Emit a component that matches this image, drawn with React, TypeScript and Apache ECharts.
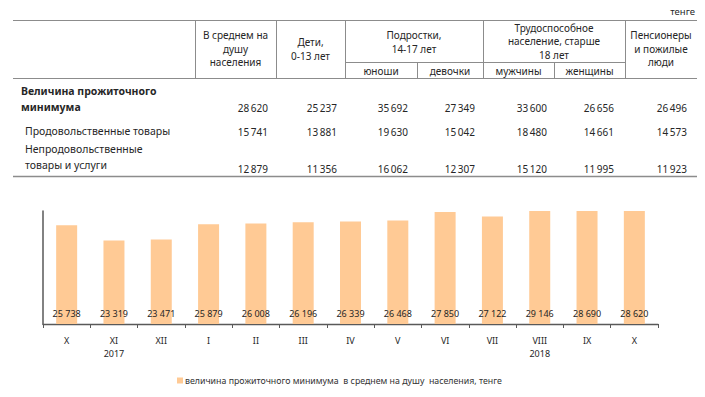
import React, { useEffect, useRef } from "react";
import * as echarts from "echarts";

const months = ["X", "XI", "XII", "I", "II", "III", "IV", "V", "VI", "VII", "VIII", "IX", "X"];
const years = ["", "2017", "", "", "", "", "", "", "", "", "2018", "", ""];
const monthlyValues = [25738, 23319, 23471, 25879, 26008, 26196, 26339, 26468, 27850, 27122, 29146, 28690, 28620];
const legendName = "величина прожиточного минимума  в среднем на душу  населения, тенге";

const rowLabels = [["Величина прожиточного", "минимума"], ["Продовольственные товары"], ["Непродовольственные", "товары и услуги"]];
const totalRow = [28620, 25237, 35692, 27349, 33600, 26656, 26496];
const foodRow = [15741, 13881, 19630, 15042, 18480, 14661, 14573];
const nonFoodRow = [12879, 11356, 16062, 12307, 15120, 11995, 11923];
const unitLabel = "тенге";

const FONT = "Noto Sans";
const TXT = "#262626";
const LINE = "#8c8c8c";

function fmt(v: number, sep = " ") {
  const th = Math.floor(v / 1000);
  const r = String(v % 1000).padStart(3, "0");
  return th + sep + r;
}

function txt(text: string, x: number, y: number, size: number, align: string = "center", weight: string = "normal") {
  return {
    type: "text",
    style: {
      text,
      x,
      y,
      fill: TXT,
      fontSize: size,
      fontFamily: FONT,
      fontWeight: weight,
      textAlign: align,
      textVerticalAlign: "middle",
    },
    silent: true,
  };
}

function ln(x1: number, y1: number, x2: number, y2: number, w = 1) {
  return {
    type: "line",
    shape: { x1, y1, x2, y2 },
    style: { stroke: LINE, lineWidth: w },
    silent: true,
  };
}

function buildTable() {
  const els: any[] = [];
  els.push(ln(13, 20.5, 697, 20.5));
  els.push(ln(13, 78.5, 697, 78.5));
  els.push(ln(13, 176.5, 697, 176.5, 1.3));
  [195.5, 276.5, 345.5, 483.5, 625.5].forEach((x) => els.push(ln(x, 21, x, 78)));
  els.push(ln(345, 62.5, 625, 62.5));
  [417.5, 554.5].forEach((x) => els.push(ln(x, 63, x, 78)));

  els.push(txt(unitLabel, 695, 11, 9.5, "right"));
  const hs = 10;
  els.push(txt("В среднем на", 235.5, 35, hs));
  els.push(txt("душу", 235.5, 48.5, hs));
  els.push(txt("населения", 235.5, 62, hs));
  els.push(txt("Дети,", 310.5, 42, hs));
  els.push(txt("0-13 лет", 310.5, 55.5, hs));
  els.push(txt("Подростки,", 414, 35, hs));
  els.push(txt("14-17 лет", 414, 48.5, hs));
  els.push(txt("юноши", 381, 70.5, hs));
  els.push(txt("девочки", 450, 70.5, hs));
  els.push(txt("Трудоспособное", 554, 27.5, hs));
  els.push(txt("население, старше", 554, 41, hs));
  els.push(txt("18 лет", 554, 54.5, hs));
  els.push(txt("мужчины", 518.5, 70.5, hs));
  els.push(txt("женщины", 589.5, 70.5, hs));
  els.push(txt("Пенсионеры", 661, 35, hs));
  els.push(txt("и пожилые", 661, 48.5, hs));
  els.push(txt("люди", 661, 62, hs));

  els.push(txt(rowLabels[0][0], 21, 91, 10.5, "left", "bold"));
  els.push(txt(rowLabels[0][1], 21, 107, 10.5, "left", "bold"));
  els.push(txt(rowLabels[1][0], 25, 131, 10.5, "left"));
  els.push(txt(rowLabels[2][0], 25, 149, 10.5, "left"));
  els.push(txt(rowLabels[2][1], 25, 165, 10.5, "left"));

  const rights = [268, 337, 408, 475, 547, 614, 687];
  const rows: [number[], number][] = [
    [totalRow, 108],
    [foodRow, 131.5],
    [nonFoodRow, 169],
  ];
  rows.forEach(([vals, y]) => {
    vals.forEach((v, i) => els.push(txt(fmt(v, "\u2009"), rights[i], y, 10, "right")));
  });
  return els;
}

export default function App() {
  const ref = useRef<HTMLDivElement>(null);
  useEffect(() => {
    document.body.style.margin = "0";
    document.body.style.fontFamily = "'Noto Sans', sans-serif";
    const chart = echarts.init(ref.current!, null, { renderer: "svg" });
    chart.setOption({
      animation: false,
      backgroundColor: "#ffffff",
      textStyle: { fontFamily: FONT },
      grid: { left: 43, right: 47, top: 211, bottom: 73, containLabel: false },
      legend: {
        data: [legendName],
        left: 177,
        top: 376,
        padding: 0,
        icon: "rect",
        itemWidth: 6,
        itemHeight: 6,
        itemGap: 4,
        textStyle: { fontSize: 8.8, color: "#333", fontFamily: FONT, padding: [0, 0, 0, -3] },
      },
      xAxis: {
        type: "category",
        data: months.map((m, i) => `${m}#${i}`),
        axisLine: { show: true, lineStyle: { color: "#595959", width: 1.3 } },
        axisTick: { show: true, length: 4, lineStyle: { color: "#595959" } },
        axisLabel: {
          interval: 0,
          margin: 10,
          fontSize: 9,
          fontFamily: FONT,
          color: "#262626",
          lineHeight: 13,
          formatter: (_v: string, i: number) => (years[i] ? `${months[i]}\n${years[i]}` : months[i]),
        },
      },
      yAxis: {
        type: "value",
        min: 10000,
        max: 28000,
        interval: 18000,
        axisLine: { show: true, lineStyle: { color: "#595959", width: 1.5 } },
        axisTick: { show: false },
        axisLabel: { show: false },
        splitLine: { show: false },
      },
      series: [
        {
          name: legendName,
          type: "bar",
          data: monthlyValues,
          barWidth: 21,
          clip: true,
          itemStyle: { color: "#FFCA95" },
          label: {
            show: true,
            position: "insideBottom",
            distance: 6,
            fontSize: 9,
            fontFamily: FONT,
            color: "#262626",
            formatter: (p: any) => fmt(p.value),
          },
        },
      ],
      graphic: buildTable(),
    });
    return () => chart.dispose();
  }, []);
  return <div ref={ref} style={{ width: 705, height: 397, position: "absolute", left: 0, top: 0 }} />;
}
